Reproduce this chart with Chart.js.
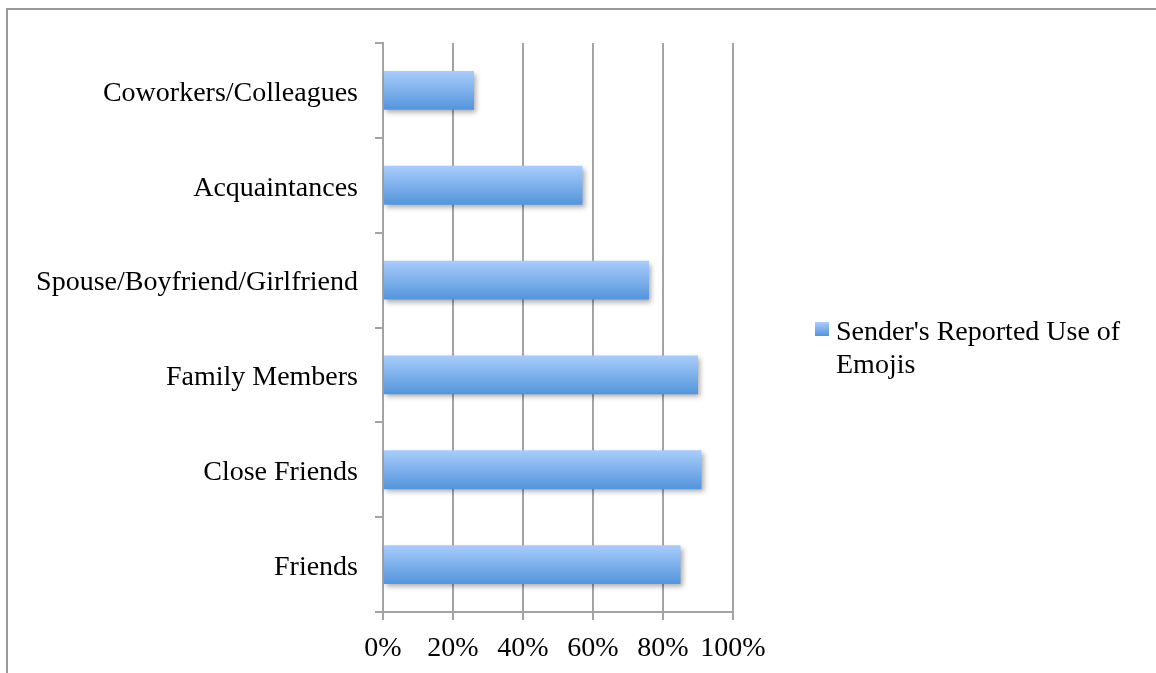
<!DOCTYPE html>
<html>
<head>
<meta charset="utf-8">
<script src="https://cdn.jsdelivr.net/npm/chart.js@4.4.1/dist/chart.umd.min.js"></script>
<style>
  html, body { margin: 0; padding: 0; background: #fff; }
  #wrap { position: relative; width: 1156px; height: 673px; }
</style>
</head>
<body>
<div id="wrap"><canvas id="emojiChart" width="1156" height="673"></canvas></div>
<script>
// chart data
const categories = ['Coworkers/Colleagues', 'Acquaintances', 'Spouse/Boyfriend/Girlfriend', 'Family Members', 'Close Friends', 'Friends'];
const senderUse = [26, 57, 76, 90, 91, 85];
const seriesName = "Sender's Reported Use of Emojis";
const xTicks = [0, 20, 40, 60, 80, 100];

const fontFamily = '"Liberation Serif", "Times New Roman", serif';
const gridGray = '#a3a3a3';

function barGradient(ctx, top, bottom) {
  const g = ctx.createLinearGradient(0, top, 0, bottom);
  g.addColorStop(0, '#a9cdfc');
  g.addColorStop(1, '#5394dc');
  return g;
}

// gradient fill + soft shadow on the bars
const barStyle = {
  id: 'barStyle',
  beforeDatasetsDraw(chart) {
    const ctx = chart.ctx;
    chart.getDatasetMeta(0).data.forEach(bar => {
      bar.options.backgroundColor = barGradient(ctx, bar.y - bar.height / 2, bar.y + bar.height / 2);
    });
    ctx.save();
    ctx.shadowColor = 'rgba(0,0,0,0.32)';
    ctx.shadowBlur = 5;
    ctx.shadowOffsetX = 2;
    ctx.shadowOffsetY = 3;
  },
  afterDatasetsDraw(chart) {
    chart.ctx.restore();
  }
};

// frame lines + legend on the right, wrapped in two lines
const frameAndLegend = {
  id: 'frameAndLegend',
  beforeDraw(chart) {
    const ctx = chart.ctx;
    ctx.save();
    ctx.strokeStyle = '#9a9a9a';
    ctx.lineWidth = 2;
    ctx.beginPath();
    ctx.moveTo(7, 673);
    ctx.lineTo(7, 9);
    ctx.lineTo(1156, 9);
    ctx.stroke();
    ctx.restore();
  },
  afterDraw(chart) {
    const ctx = chart.ctx;
    ctx.save();
    ctx.fillStyle = barGradient(ctx, 322, 336);
    ctx.fillRect(815, 322, 14, 14);
    ctx.fillStyle = '#000';
    ctx.font = '28px ' + fontFamily;
    ctx.textBaseline = 'alphabetic';
    const words = seriesName.split(' ');
    const lines = [];
    let line = '';
    words.forEach(w => {
      const test = line ? line + ' ' + w : w;
      if (ctx.measureText(test).width > 300 && line) {
        lines.push(line);
        line = w;
      } else {
        line = test;
      }
    });
    lines.push(line);
    lines.forEach((l, i) => ctx.fillText(l, 836, 340 + i * 33));
    ctx.restore();
  }
};

Chart.defaults.font.family = fontFamily;
Chart.defaults.color = '#000';

const chartCtx = document.getElementById('emojiChart').getContext('2d');
const emojiChart = new Chart(chartCtx, {
  type: 'bar',
  data: {
    labels: categories,
    datasets: [{
      label: seriesName,
      data: senderUse,
      // scriptable so every bar gets its own options object
      backgroundColor: ctx => '#7fb1ec',
      borderWidth: 0,
      categoryPercentage: 1,
      barPercentage: 0.41
    }]
  },
  options: {
    indexAxis: 'y',
    responsive: false,
    animation: false,
    layout: {
      padding: { top: 43, right: 423, bottom: 0, left: 0 }
    },
    scales: {
      x: {
        min: 0,
        max: 100,
        afterBuildTicks: scale => {
          scale.ticks = xTicks.map(v => ({ value: v }));
        },
        afterFit: scale => { scale.height = 61; },
        ticks: {
          font: { size: 28 },
          color: '#000',
          padding: 12,
          maxRotation: 0,
          callback: v => v + '%'
        },
        grid: {
          color: gridGray,
          lineWidth: 2,
          tickLength: 8,
          drawTicks: true
        },
        border: { color: gridGray, width: 2 }
      },
      y: {
        afterFit: scale => { scale.width = 383; },
        ticks: {
          font: { size: 28 },
          color: '#000',
          padding: 17,
          labelOffset: 3
        },
        grid: {
          offset: true,
          drawOnChartArea: false,
          drawTicks: true,
          tickLength: 8,
          color: gridGray,
          lineWidth: 2
        },
        border: { color: gridGray, width: 2 }
      }
    },
    plugins: {
      legend: { display: false },
      tooltip: { enabled: false }
    }
  },
  plugins: [barStyle, frameAndLegend]
});
</script>
</body>
</html>
